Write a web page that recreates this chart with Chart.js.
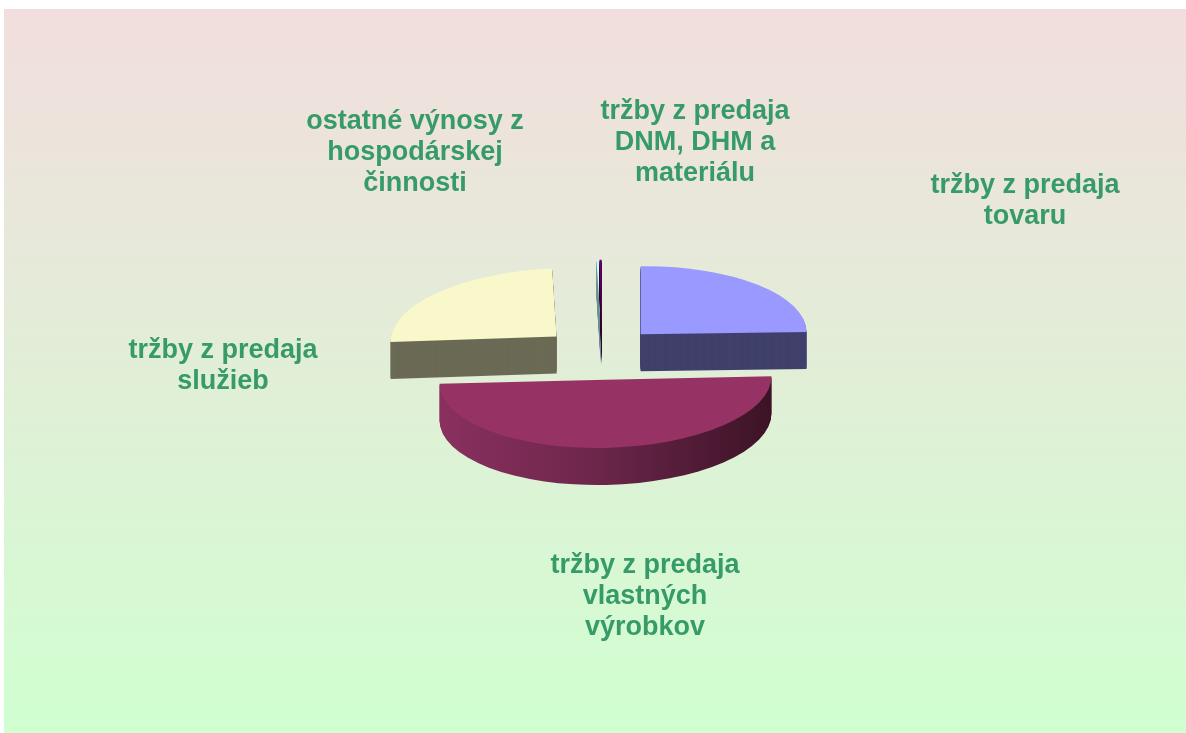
<!DOCTYPE html>
<html><head><meta charset="utf-8">
<style>html,body{margin:0;padding:0;background:#fff;overflow:hidden}#wrap{position:absolute;left:0;top:0;width:1186px;height:733px}</style>
<script src="https://cdn.jsdelivr.net/npm/chart.js@4/dist/chart.umd.min.js"></script>
</head><body><div id="wrap"><canvas id="c"></canvas></div>
<script>
// ---- data ----
const categories = [
  'tržby z predaja tovaru',
  'tržby z predaja vlastných výrobkov',
  'tržby z predaja služieb',
  'ostatné výnosy z hospodárskej činnosti',
  'tržby z predaja DNM, DHM a materiálu'
];
const values = [24.9, 49.9, 24.7, 0.22, 0.2];
const labelLines = [
  ['tržby z predaja', 'tovaru'],
  ['tržby z predaja', 'vlastných', 'výrobkov'],
  ['tržby z predaja', 'služieb'],
  ['ostatné výnosy z', 'hospodárskej', 'činnosti'],
  ['tržby z predaja', 'DNM, DHM a', 'materiálu']
];

// ---- layout / style ----
const topColors = ['#9999FF', '#963364', '#F8F8CA', '#CCFFFF', '#660066'];
const sideColors = ['#40406C', null, '#6B6A55', '#6A9090', '#330033'];
const explode = [59, 68, 59, 59, 59];
const nudgeX = [0, 6, 0, 3, 3];
const tiltK = [0.41, 0.41, 0.41, 0.41, 0.41];
const skewS = [-0.012, -0.02, -0.03, 0, 0];
const labelPos = [[1025, 193], [645, 573], [223, 358], [415, 129], [695, 119]];
const DEPTH = 37, LINE_H = 31;

const pie3d = {
  id: 'pie3d',
  beforeDraw(chart) {
    const ctx = chart.ctx;
    ctx.save();
    ctx.fillStyle = '#fff';
    ctx.fillRect(0, 0, chart.width, chart.height);
    const g = ctx.createLinearGradient(0, 9, 0, chart.height);
    g.addColorStop(0, '#F2DEDE');
    g.addColorStop(1, '#D0FFD0');
    ctx.fillStyle = g;
    ctx.fillRect(4, 9, chart.width - 4, chart.height - 9);
    ctx.restore();
  },
  beforeDatasetDraw(chart, args) {
    const ctx = chart.ctx;
    const arcs = args.meta.data;
    const order = [3, 4, 0, 2, 1];
    const cx = arcs[0].x, cy = arcs[0].y;
    for (const i of order) {
      const a = arcs[i];
      const tilt = () => {
        ctx.translate(cx + nudgeX[i], cy);
        ctx.transform(1, skewS[i], 0, tiltK[i], 0, 0);
        ctx.translate(-cx, -cy);
      };
      const mid = (a.startAngle + a.endAngle) / 2;
      const ox = Math.cos(mid) * explode[i], oy = Math.sin(mid) * explode[i];
      let side = sideColors[i];
      if (!side) {
        const g = ctx.createLinearGradient(cx - a.outerRadius, 0, cx + a.outerRadius, 0);
        g.addColorStop(0, '#8A305F');
        g.addColorStop(0.45, '#6E274C');
        g.addColorStop(1, '#3C1326');
        side = g;
      }
      for (let dy = DEPTH; dy >= 1; dy--) {
        ctx.save();
        ctx.translate(0, dy);
        tilt();
        ctx.translate(ox, oy);
        ctx.beginPath();
        ctx.moveTo(a.x, a.y);
        ctx.arc(a.x, a.y, a.outerRadius, a.startAngle, a.endAngle);
        ctx.closePath();
        ctx.fillStyle = side;
        ctx.fill();
        ctx.restore();
      }
      ctx.save();
      tilt();
      ctx.translate(ox, oy);
      a.draw(ctx);
      ctx.restore();
    }
    return false;
  },
  afterDraw(chart) {
    const ctx = chart.ctx;
    ctx.save();
    ctx.font = 'bold 27px "Liberation Sans", Arial, sans-serif';
    ctx.fillStyle = '#369A69';
    ctx.textAlign = 'center';
    ctx.textBaseline = 'alphabetic';
    labelLines.forEach((lines, i) => {
      lines.forEach((t, j) => ctx.fillText(t, labelPos[i][0], labelPos[i][1] + j * LINE_H));
    });
    ctx.restore();
  }
};

new Chart(document.getElementById('c'), {
  type: 'pie',
  data: {
    labels: categories,
    datasets: [{
      data: values,
      backgroundColor: topColors,
      borderWidth: 0,
      radius: 166
    }]
  },
  options: {
    responsive: true,
    maintainAspectRatio: false,
    animation: false,
    layout: { padding: { left: 12, bottom: 29 } },
    plugins: { legend: { display: false }, tooltip: { enabled: false } }
  },
  plugins: [pie3d]
});
</script></body></html>
